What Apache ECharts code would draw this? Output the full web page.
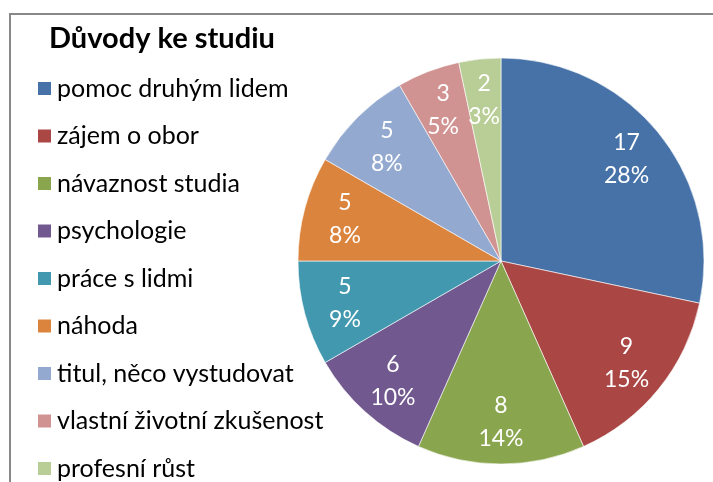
<!DOCTYPE html>
<html>
<head>
<meta charset="utf-8">
<script src="https://cdn.jsdelivr.net/npm/echarts@6/dist/echarts.min.js"></script>
<style>
  html, body { margin: 0; padding: 0; background: #fff; }
  #chart { width: 713px; height: 482px; }
</style>
</head>
<body>
<div id="chart"></div>
<script>
// data
var categories = ['pomoc druhým lidem', 'zájem o obor', 'návaznost studia', 'psychologie',
    'práce s lidmi', 'náhoda', 'titul, něco vystudovat', 'vlastní životní zkušenost', 'profesní růst'];
var counts = [17, 9, 8, 6, 5, 5, 5, 3, 2];
// percentages as printed on the slices
var percents = [28, 15, 14, 10, 9, 8, 8, 5, 3];
var colors = ['#4672A8', '#AA4644', '#89A54E', '#71588F', '#4198AF', '#DB843D', '#93A9D0', '#D09392', '#B9CE96'];

var font = 'Lato, "Open Sans", sans-serif';

var pieData = categories.map(function (name, i) {
    return { name: name, value: counts[i], itemStyle: { color: colors[i] } };
});
var labelData = categories.map(function (name, i) {
    return { name: name, value: counts[i] };
});

var chart = echarts.init(document.getElementById('chart'));
var option = {
    animation: false,
    title: {
        text: 'Důvody ke studiu',
        left: 44,
        top: 19,
        textStyle: { fontFamily: font, fontSize: 29, fontWeight: 'bold', color: '#000' }
    },
    legend: {
        orient: 'vertical',
        left: 36,
        top: 76,
        height: 420,
        padding: 0,
        icon: 'rect',
        itemWidth: 15,
        itemHeight: 15,
        itemGap: 22.5,
        data: categories,
        textStyle: { fontFamily: font, fontSize: 25, lineHeight: 24, color: '#000' }
    },
    graphic: [{
        type: 'rect',
        shape: { x: 10, y: 14, width: 900, height: 700 },
        style: { fill: 'none', stroke: '#888', lineWidth: 2 },
        silent: true
    }],
    series: [
        {
            name: 'Důvody ke studiu',
            type: 'pie',
            center: [501, 261],
            radius: [0, 203],
            startAngle: 90,
            clockwise: true,
            label: { show: false },
            labelLine: { show: false },
            itemStyle: { borderColor: '#fff', borderWidth: 0.6 },
            emphasis: { disabled: true },
            data: pieData
        },
        {
            // transparent ring used only to place the labels
            type: 'pie',
            center: [501, 261],
            radius: [114, 203],
            startAngle: 90,
            clockwise: true,
            silent: true,
            itemStyle: { color: 'rgba(0,0,0,0)' },
            labelLine: { show: false },
            label: {
                show: true,
                position: 'inside',
                color: '#fff',
                fontFamily: font,
                fontSize: 23,
                lineHeight: 33,
                formatter: function (p) {
                    return p.value + '\n' + percents[p.dataIndex] + '%';
                }
            },
            data: labelData
        }
    ]
};
chart.setOption(option);
</script>
</body>
</html>
